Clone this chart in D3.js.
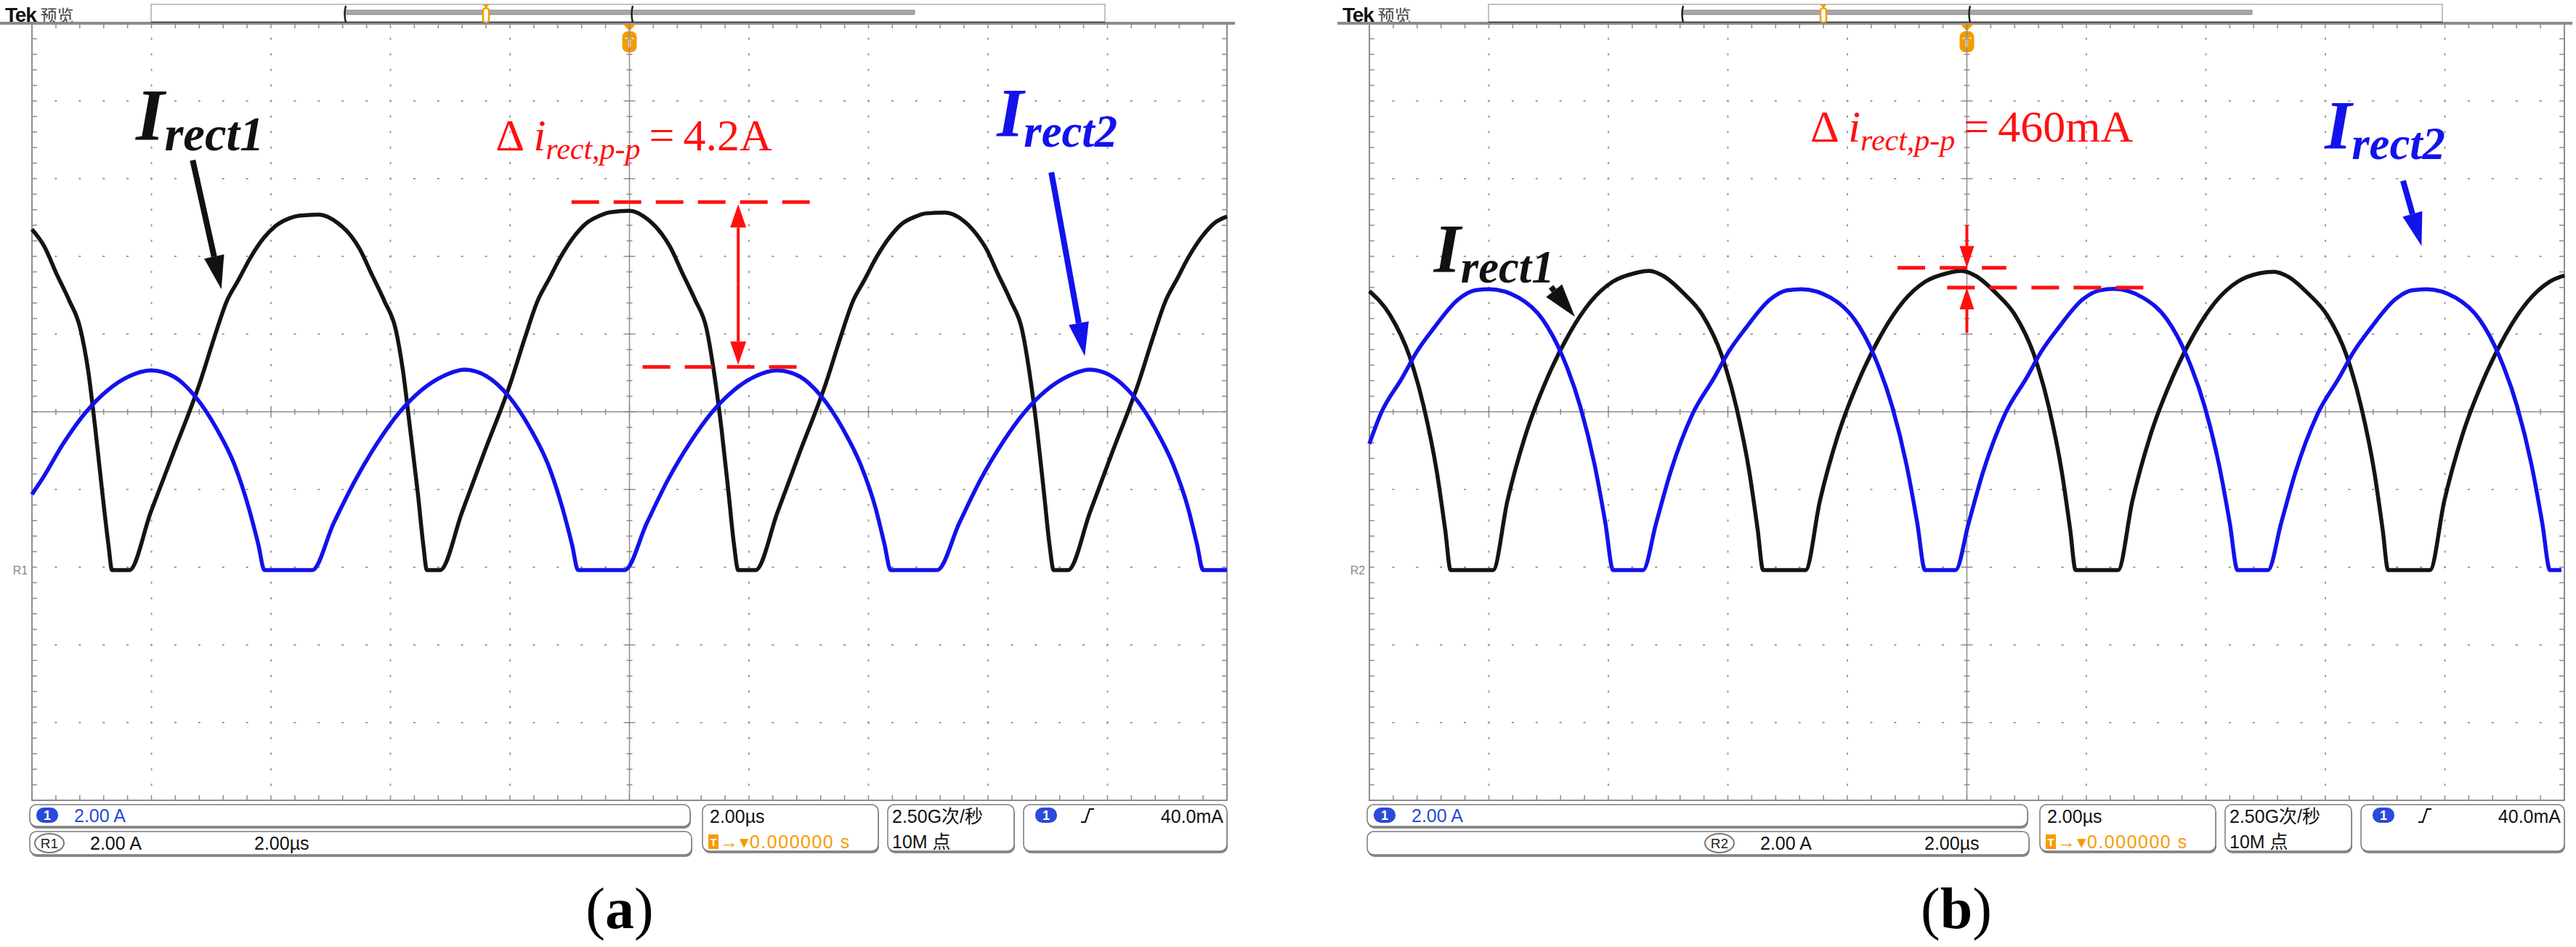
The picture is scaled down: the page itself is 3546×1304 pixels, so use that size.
<!DOCTYPE html>
<html><head><meta charset="utf-8">
<script src="https://cdn.jsdelivr.net/npm/d3@7"></script>
<style>html,body{margin:0;padding:0;background:#fff;}svg{display:block;}</style>
</head><body>
<svg id="chart" width="3546" height="1304"></svg>
<script>
// ---------------- data (time in µs, current in A) ----------------
const timeDomain = [-10, 10];          // 10 div x 2.00 µs
const currentPerDiv = 2;               // 2.00 A / div
const refMarkerDiv = -2.0375;          // R1 / R2 ground marker, divisions from centre
const panelLabels = ["(a)", "(b)"];
const refNames = ["R1", "R2"];
const seriesNames = ["rect1", "rect2"];
const rippleTexts = ["4.2A", "460mA"];
const statusScale = ["2.00 A", "2.00µs", "2.50G次/秒", "10M 点", "40.0mA", "0.000000 s"];

const blackA = [[-10.00,8.77],[-9.79,8.32],[-9.59,7.63],[-9.38,6.95],[-9.19,6.21],[-9.06,5.14],[-8.94,3.64],[-8.82,1.96],[-8.72,0.65],[-8.66,0.00],[-8.52,0.00],
[-8.37,0.00],[-8.01,1.50],[-7.64,2.99],[-7.19,4.82],[-6.95,5.98],[-6.74,6.92],[-6.55,7.45],[-6.34,8.05],[-6.12,8.55],[-5.93,8.85],[-5.70,9.05],[-5.53,9.12],[-5.20,9.15],[-4.88,8.93],[-4.66,8.60],[-4.52,8.28],[-4.31,7.60],[-4.10,6.92],[-3.91,6.18],[-3.79,5.12],[-3.67,3.62],[-3.54,1.95],[-3.45,0.64],[-3.39,0.00],[-3.28,0.00],
[-3.17,0.00],[-2.80,1.50],[-2.44,2.99],[-1.99,4.82],[-1.75,5.98],[-1.54,6.92],[-1.35,7.48],[-1.14,8.09],[-0.92,8.60],[-0.73,8.92],[-0.50,9.12],[-0.32,9.21],[0.00,9.25],[0.32,9.01],[0.54,8.65],[0.68,8.32],[0.89,7.63],[1.10,6.95],[1.29,6.21],[1.41,5.14],[1.54,3.64],[1.66,1.96],[1.75,0.65],[1.82,0.00],[1.96,0.00],
[2.11,0.00],[2.48,1.50],[2.84,2.99],[3.29,4.82],[3.53,5.98],[3.74,6.92],[3.93,7.46],[4.14,8.07],[4.36,8.58],[4.55,8.90],[4.79,9.10],[4.96,9.18],[5.28,9.20],[5.60,8.98],[5.82,8.62],[5.96,8.30],[6.17,7.61],[6.38,6.93],[6.57,6.19],[6.69,5.13],[6.82,3.63],[6.94,1.95],[7.03,0.65],[7.10,0.00],[7.22,0.00],
[7.34,0.00],[7.71,1.50],[8.07,2.99],[8.52,4.82],[8.76,5.98],[8.97,6.92],[9.16,7.48],[9.37,8.09],[9.59,8.60],[9.78,8.92],[10.00,9.10]];

const blueA = [[-10.00,1.95],[-9.83,2.34],[-9.47,3.27],[-9.10,4.06],[-8.74,4.62],[-8.37,4.99],[-8.01,5.14],[-7.64,4.99],[-7.28,4.49],[-6.91,3.64],[-6.61,2.71],[-6.37,1.59],[-6.21,0.65],[-6.11,0.00],[-5.70,0.00],
[-5.31,0.00],[-4.95,1.21],[-4.58,2.34],[-4.22,3.27],[-3.85,4.06],[-3.49,4.62],[-3.12,4.99],[-2.76,5.16],[-2.39,4.99],[-2.03,4.49],[-1.66,3.64],[-1.36,2.71],[-1.12,1.59],[-0.96,0.65],[-0.86,0.00],[-0.47,0.00],
[-0.08,0.00],[0.29,1.21],[0.65,2.34],[1.01,3.27],[1.38,4.06],[1.74,4.62],[2.11,4.99],[2.47,5.14],[2.84,4.99],[3.20,4.49],[3.57,3.64],[3.87,2.71],[4.12,1.59],[4.27,0.65],[4.37,0.00],[4.76,0.00],
[5.15,0.00],[5.52,1.21],[5.88,2.34],[6.24,3.27],[6.61,4.06],[6.97,4.62],[7.34,4.99],[7.70,5.16],[8.07,4.99],[8.43,4.49],[8.80,3.64],[9.10,2.71],[9.35,1.59],[9.50,0.65],[9.60,0.00],[10.00,0.00]];

const blackB = [[-10.00,7.18],[-9.66,6.58],[-9.33,5.51],[-9.09,4.21],[-8.87,2.52],[-8.73,1.03],[-8.64,0.00],[-8.30,0.00],
[-7.93,0.00],[-7.69,1.78],[-7.39,3.46],[-7.02,4.95],[-6.66,6.07],[-6.29,6.92],[-5.93,7.42],[-5.56,7.64],[-5.32,7.70],[-5.08,7.57],[-4.75,7.14],[-4.43,6.58],[-4.10,5.51],[-3.86,4.21],[-3.64,2.52],[-3.50,1.03],[-3.41,0.00],[-3.05,0.00],
[-2.70,0.00],[-2.46,1.78],[-2.16,3.46],[-1.79,4.95],[-1.43,6.07],[-1.06,6.92],[-0.70,7.42],[-0.33,7.64],[-0.09,7.70],[0.15,7.57],[0.48,7.14],[0.80,6.58],[1.13,5.51],[1.37,4.21],[1.59,2.52],[1.73,1.03],[1.82,0.00],[2.18,0.00],
[2.53,0.00],[2.77,1.78],[3.07,3.46],[3.44,4.95],[3.80,6.07],[4.17,6.92],[4.53,7.42],[4.90,7.64],[5.14,7.68],[5.38,7.55],[5.71,7.12],[6.03,6.56],[6.36,5.50],[6.60,4.20],[6.82,2.52],[6.96,1.03],[7.05,0.00],[7.40,0.00],
[7.75,0.00],[7.99,1.78],[8.29,3.46],[8.66,4.95],[9.02,6.07],[9.39,6.92],[9.75,7.42],[10.00,7.58]];

const blueB = [[-10.00,3.25],[-9.81,4.02],[-9.45,4.95],[-9.21,5.61],[-8.93,6.21],[-8.51,6.97],[-8.23,7.20],[-7.99,7.23],[-7.50,7.01],[-7.10,6.45],[-6.77,5.51],[-6.47,4.21],[-6.23,2.71],[-6.05,1.21],[-5.92,0.00],[-5.67,0.00],
[-5.42,0.00],[-5.20,1.21],[-4.96,2.52],[-4.59,4.02],[-4.23,4.95],[-3.99,5.61],[-3.71,6.21],[-3.29,6.97],[-3.01,7.20],[-2.77,7.23],[-2.28,7.01],[-1.88,6.45],[-1.55,5.51],[-1.25,4.21],[-1.01,2.71],[-0.83,1.21],[-0.70,0.00],[-0.45,0.00],
[-0.19,0.00],[0.03,1.21],[0.27,2.52],[0.64,4.02],[1.00,4.95],[1.24,5.61],[1.52,6.21],[1.94,6.97],[2.22,7.20],[2.46,7.24],[2.95,7.01],[3.35,6.45],[3.68,5.51],[3.98,4.21],[4.22,2.71],[4.40,1.21],[4.53,0.00],[4.78,0.00],
[5.04,0.00],[5.26,1.21],[5.50,2.52],[5.87,4.02],[6.23,4.95],[6.47,5.61],[6.75,6.21],[7.17,6.97],[7.45,7.20],[7.69,7.23],[8.18,7.01],[8.58,6.45],[8.91,5.51],[9.21,4.21],[9.45,2.71],[9.63,1.21],[9.76,0.00],[9.95,0.00]];

// ripple measurement levels (A) : [upper, lower]
const rippleLevelsA = [9.47, 5.23];
const rippleLevelsB = [7.78, 7.27];

// ---------------- layout ----------------
const SANS = "'Liberation Sans', Arial, 'Noto Sans CJK SC', sans-serif";
const SERIF = "'Liberation Serif', 'Times New Roman', serif";
const CJK = "'Liberation Sans', 'Noto Sans CJK SC', sans-serif";
const RED = "#ff1010", BLUE = "#1212ec", ORANGE = "#f59b00", SBLUE = "#2a4ad8";
const P = {left: 44, right: 1689, top: 32, bottom: 1102};
const currentDomain = [(-5 - refMarkerDiv) * currentPerDiv, (5 - refMarkerDiv) * currentPerDiv];
const x = d3.scaleLinear().domain(timeDomain).range([P.left, P.right]);
const y = d3.scaleLinear().domain(currentDomain).range([P.bottom, P.top]);
const gx = d3.scaleLinear().domain([0, 10]).range([P.left, P.right]);
const gy = d3.scaleLinear().domain([0, 10]).range([P.top, P.bottom]);

const svg = d3.select("#chart");
svg.append("rect").attr("width", 3546).attr("height", 1304).attr("fill", "#fff");

function arrow(g, x1, y1, x2, y2, color, w, hl, hw) {
  const a = Math.atan2(y2 - y1, x2 - x1);
  const bx = x2 - hl * Math.cos(a), by = y2 - hl * Math.sin(a);
  g.append("line").attr("x1", x1).attr("y1", y1).attr("x2", bx).attr("y2", by)
    .attr("stroke", color).attr("stroke-width", w);
  const px = -Math.sin(a) * hw / 2, py = Math.cos(a) * hw / 2;
  g.append("polygon").attr("points", `${x2},${y2} ${bx + px},${by + py} ${bx - px},${by - py}`).attr("fill", color);
}

function box(g, x0, y0, w, h) {
  g.append("rect").attr("x", x0 + 1).attr("y", y0 + 3).attr("width", w).attr("height", h).attr("rx", 9).attr("fill", "#8a8a8a");
  g.append("rect").attr("x", x0).attr("y", y0).attr("width", w).attr("height", h).attr("rx", 9)
    .attr("fill", "#fff").attr("stroke", "#7a7a7a").attr("stroke-width", 1.5);
}
function badge(g, x0, y0) {
  g.append("rect").attr("x", x0).attr("y", y0).attr("width", 30).attr("height", 21).attr("rx", 10).attr("fill", SBLUE);
  g.append("text").attr("x", x0 + 15).attr("y", y0 + 17).attr("text-anchor", "middle").attr("fill", "#fff")
    .attr("font-family", SANS).attr("font-size", 18).attr("font-weight", "bold").text("1");
}
function stxt(g, x0, y0, s, color, anchor) {
  return g.append("text").attr("x", x0).attr("y", y0).attr("fill", color || "#111").attr("font-family", CJK)
    .attr("font-size", 25).attr("text-anchor", anchor || "start").text(s);
}

function drawPanel(k, offset, black, blue, levels, cfg) {
  const g = svg.append("g").attr("transform", `translate(${offset},0)`);
  // top status
  const tek = g.append("text").attr("x", 7).attr("y", 30).attr("font-family", SANS).attr("font-size", 28);
  tek.append("tspan").attr("font-weight", "bold").attr("fill", "#111").attr("letter-spacing", -1.2).text("Tek");
  tek.append("tspan").attr("dx", 6).attr("font-family", "'Noto Sans CJK SC', sans-serif").attr("font-size", 23).attr("fill", "#444").text("预览");
  g.append("line").attr("x1", 0).attr("x2", 1700).attr("y1", P.top).attr("y2", P.top).attr("stroke", "#8a8a8a").attr("stroke-width", 4);
  g.append("rect").attr("x", 208).attr("y", 6).attr("width", 1313).attr("height", 26).attr("fill", "#fff").attr("stroke", "#9a9a9a").attr("stroke-width", 1.2);
  g.append("line").attr("x1", 208).attr("x2", 1521).attr("y1", 31).attr("y2", 31).attr("stroke", "#222").attr("stroke-width", 2.5);
  g.append("rect").attr("x", 474).attr("y", 14).attr("width", 785).attr("height", 6).attr("fill", "#a8a8a8").attr("stroke", "#777").attr("stroke-width", 0.8);
  [474, 869].forEach(bx => g.append("path").attr("d", `M${bx + 2},8 Q${bx - 1},19 ${bx + 2},31`).attr("fill", "none").attr("stroke", "#222").attr("stroke-width", 2.5));
  g.append("path").attr("d", "M664,6 L674,6 L669,11 Z").attr("fill", ORANGE);
  g.append("rect").attr("x", 665).attr("y", 11).attr("width", 8).attr("height", 20).attr("rx", 4).attr("fill", "#fff").attr("stroke", ORANGE).attr("stroke-width", 2.5);
  // trigger marker
  const cx = x(0);
  g.append("path").attr("d", `M${cx - 9},33 L${cx + 9},33 L${cx},43 Z`).attr("fill", ORANGE);
  g.append("rect").attr("x", cx - 10).attr("y", 43).attr("width", 20).attr("height", 29).attr("rx", 8).attr("fill", ORANGE);
  g.append("text").attr("x", cx).attr("y", 65).attr("text-anchor", "middle").attr("fill", "#fff").attr("font-family", SANS).attr("font-weight", "bold").attr("font-size", 19).text("T");

  // grid dots
  const grid = g.append("g").attr("fill", "#9c9c9c");
  const minors = d3.range(1, 50).map(v => v / 5);
  for (let i = 1; i < 10; i++) {
    if (i === 5) continue;
    minors.forEach(v => grid.append("rect").attr("x", gx(i) - 1).attr("y", gy(v) - 1.5).attr("width", 2).attr("height", 3));
    minors.forEach(v => grid.append("rect").attr("x", gx(v) - 1.5).attr("y", gy(i) - 1).attr("width", 3).attr("height", 2));
  }
  // centre axes
  const ax = g.append("g").attr("stroke", "#8c8c8c").attr("stroke-width", 1.5);
  ax.append("line").attr("x1", gx(5)).attr("x2", gx(5)).attr("y1", P.top).attr("y2", P.bottom);
  ax.append("line").attr("x1", P.left).attr("x2", P.right).attr("y1", gy(5)).attr("y2", gy(5));
  minors.forEach(v => {
    const L = (Math.abs(v - Math.round(v)) < 1e-6) ? 8 : 4;
    ax.append("line").attr("x1", gx(5) - L).attr("x2", gx(5) + L).attr("y1", gy(v)).attr("y2", gy(v));
    ax.append("line").attr("y1", gy(5) - L).attr("y2", gy(5) + L).attr("x1", gx(v)).attr("x2", gx(v));
  });
  // border + ticks
  g.append("rect").attr("x", P.left).attr("y", P.top).attr("width", P.right - P.left).attr("height", P.bottom - P.top)
    .attr("fill", "none").attr("stroke", "#8c8c8c").attr("stroke-width", 2);
  const bt = g.append("g").attr("stroke", "#8c8c8c").attr("stroke-width", 1.5);
  minors.forEach(v => {
    bt.append("line").attr("x1", gx(v)).attr("x2", gx(v)).attr("y1", P.top).attr("y2", P.top + 7);
    bt.append("line").attr("x1", gx(v)).attr("x2", gx(v)).attr("y1", P.bottom).attr("y2", P.bottom - 7);
    bt.append("line").attr("y1", gy(v)).attr("y2", gy(v)).attr("x1", P.left).attr("x2", P.left + 7);
    bt.append("line").attr("y1", gy(v)).attr("y2", gy(v)).attr("x1", P.right).attr("x2", P.right - 7);
  });
  // ref marker
  g.append("text").attr("x", P.left - 16).attr("y", y(0) + 6).attr("text-anchor", "middle").attr("font-family", SANS)
    .attr("font-size", 16).attr("fill", "#888").text(refNames[k]);

  // traces
  const line = d3.line().x(d => x(d[0])).y(d => y(d[1])).curve(d3.curveMonotoneX);
  g.append("path").datum(black).attr("d", line).attr("fill", "none").attr("stroke", "#141414").attr("stroke-width", 5.5).attr("stroke-linejoin", "round");
  g.append("path").datum(blue).attr("d", line).attr("fill", "none").attr("stroke", BLUE).attr("stroke-width", 5.5).attr("stroke-linejoin", "round");

  // labels
  const lab = (t, i, name, color, fs) => {
    const tx = g.append("text").attr("x", x(t)).attr("y", y(i)).attr("font-family", SERIF).attr("font-weight", "bold")
      .attr("font-style", "italic").attr("font-size", fs).attr("fill", color);
    tx.append("tspan").text("I");
    tx.append("tspan").attr("font-size", fs * 0.66).attr("dy", 14).text(name);
  };
  lab(cfg.l1[0], cfg.l1[1], seriesNames[0], "#111", cfg.fs1);
  lab(cfg.l2[0], cfg.l2[1], seriesNames[1], BLUE, 95);
  arrow(g, x(cfg.a1[0]), y(cfg.a1[1]), x(cfg.a1[2]), y(cfg.a1[3]), "#111", 8, 46, 28);
  arrow(g, x(cfg.a2[0]), y(cfg.a2[1]), x(cfg.a2[2]), y(cfg.a2[3]), BLUE, 8, 46, 28);

  // ripple text
  const rt = g.append("text").attr("x", x(cfg.dt[0])).attr("y", y(cfg.dt[1])).attr("font-family", SERIF).attr("font-size", 62).attr("fill", RED);
  rt.append("tspan").text("Δ");
  rt.append("tspan").attr("dx", 12).attr("font-style", "italic").text("i");
  rt.append("tspan").attr("font-style", "italic").attr("font-size", 42).attr("dy", 12).text("rect,p-p");
  rt.append("tspan").attr("dy", -12).attr("dx", 12).text("=");
  rt.append("tspan").attr("dx", 12).text(rippleTexts[k]);

  // dashed levels
  const dl = (t1, t2, v) => g.append("line").attr("x1", x(t1)).attr("x2", x(t2)).attr("y1", y(v)).attr("y2", y(v))
    .attr("stroke", RED).attr("stroke-width", 5).attr("stroke-dasharray", "38,20");
  dl(cfg.top[0], cfg.top[1], levels[0]);
  dl(cfg.bot[0], cfg.bot[1], levels[1]);
  if (k === 0) {
    const ax0 = x(cfg.arrT), ya = y(levels[0]), yb = y(levels[1]);
    arrow(g, ax0, (ya + yb) / 2, ax0, ya + 3, RED, 4, 32, 22);
    arrow(g, ax0, (ya + yb) / 2, ax0, yb - 3, RED, 4, 32, 22);
  } else {
    const ax0 = x(cfg.arrT);
    arrow(g, ax0, y(cfg.arrFrom[0]), ax0, y(levels[0]), RED, 4, 30, 20);
    arrow(g, ax0, y(cfg.arrFrom[1]), ax0, y(levels[1]), RED, 4, 30, 20);
  }

  // status bar
  const sb = g.append("g");
  box(sb, 41, 1108, 909, 30);
  box(sb, 41, 1145, 911, 32);
  box(sb, 967, 1108, 242, 64);
  box(sb, 1222, 1108, 174, 64);
  box(sb, 1409, 1108, 280, 64);
  badge(sb, 50, 1112);
  stxt(sb, 102, 1132, statusScale[0], SBLUE);
  const rx0 = cfg.r2x;
  sb.append("ellipse").attr("cx", rx0 + 21).attr("cy", 1161).attr("rx", 20).attr("ry", 13).attr("fill", "#fff").attr("stroke", "#777").attr("stroke-width", 2);
  sb.append("text").attr("x", rx0 + 21).attr("y", 1168).attr("text-anchor", "middle").attr("font-family", SANS).attr("font-size", 19).attr("fill", "#222").text(refNames[k]);
  stxt(sb, rx0 + 77, 1170, statusScale[0]);
  stxt(sb, rx0 + 303, 1170, statusScale[1]);
  stxt(sb, 977, 1133, statusScale[1]);
  sb.append("rect").attr("x", 975).attr("y", 1149).attr("width", 14).attr("height", 20).attr("fill", ORANGE);
  sb.append("text").attr("x", 982).attr("y", 1165).attr("text-anchor", "middle").attr("font-family", SANS).attr("font-size", 15).attr("font-weight", "bold").attr("fill", "#fff").text("T");
  stxt(sb, 991, 1168, "→▾" + statusScale[5], ORANGE).attr("letter-spacing", 1.5);
  stxt(sb, 1228, 1133, statusScale[2]);
  stxt(sb, 1228, 1168, statusScale[3]);
  badge(sb, 1425, 1112);
  sb.append("path").attr("d", "M1488,1132 L1494,1132 L1500,1114 L1506,1114").attr("fill", "none").attr("stroke", "#111").attr("stroke-width", 2.2);
  stxt(sb, 1684, 1133, statusScale[4], "#111", "end");

  // panel label
  const pl = g.append("text").attr("x", cfg.plx).attr("y", 1278).attr("text-anchor", "middle").attr("font-family", SERIF).attr("font-size", 80).attr("fill", "#000");
  pl.append("tspan").text("(");
  pl.append("tspan").attr("font-weight", "bold").text(panelLabels[k].slice(1, 2));
  pl.append("tspan").text(")");
}

drawPanel(0, 0, blackA, blueA, rippleLevelsA, {
  l1: [-8.26, 11.06], fs1: 101, l2: [6.15, 11.16],
  a1: [-7.31, 10.55, -6.83, 7.23], a2: [7.06, 10.24, 7.62, 5.51],
  dt: [-2.24, 10.80], top: [-0.97, 3.08], bot: [0.22, 2.84], arrT: 1.82,
  r2x: 47, plx: 853
});
drawPanel(1, 1841, blackB, blueB, rippleLevelsB, {
  l1: [-8.92, 7.66], fs1: 95, l2: [5.99, 10.84],
  a1: [-6.96, 7.29, -6.56, 6.52], a2: [7.30, 10.02, 7.61, 8.34],
  dt: [-2.62, 11.03], top: [-1.16, 0.66], bot: [-0.33, 2.97], arrT: 0.0, arrFrom: [8.88, 6.11],
  r2x: 2346 - 1841, plx: 2693 - 1841
});
</script>
</body></html>
